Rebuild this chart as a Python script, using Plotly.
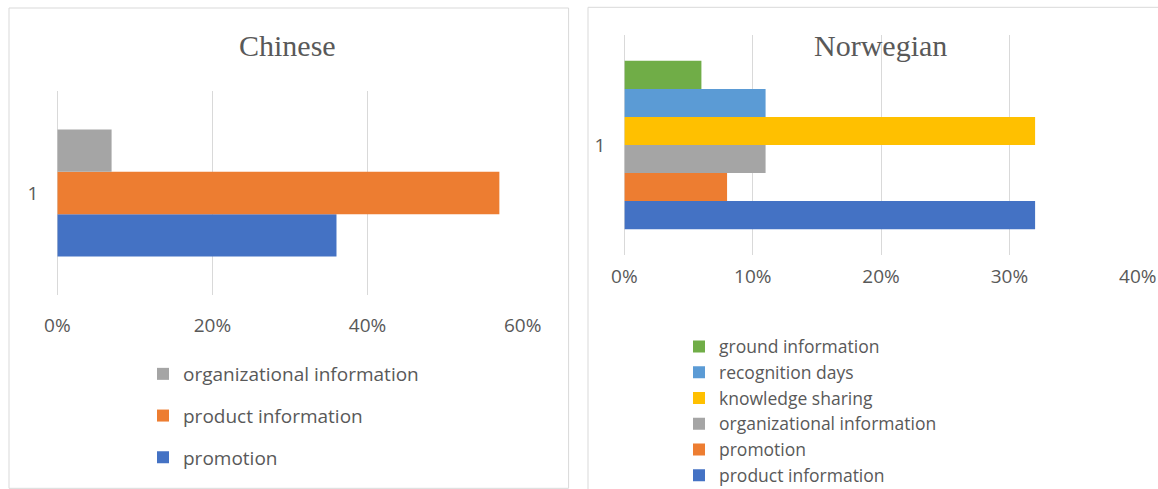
import plotly.graph_objects as go

# Survey answers, share of messages per content type
category = ["1"]

cn_series = ["promotion", "product information", "organizational information"]
cn_values = [0.36, 0.57, 0.07]
cn_colors = ["#4472C4", "#ED7D31", "#A5A5A5"]

no_series = ["product information", "promotion", "organizational information",
             "knowledge sharing", "recognition days", "ground information"]
no_values = [0.32, 0.08, 0.11, 0.32, 0.11, 0.06]
no_colors = ["#4472C4", "#ED7D31", "#A5A5A5", "#FFC000", "#5B9BD5", "#70AD47"]

cn_ticks = [0, 0.2, 0.4, 0.6]
no_ticks = [0, 0.1, 0.2, 0.3, 0.4]

W, H = 1158, 489
TEXT = "#595959"
GRID = "#D9D9D9"
SANS = "Open Sans"
SERIF = "Liberation Serif"
FS = 19


def px(x):
    return x / W


def py(y):
    return (H - y) / H


fig = go.Figure()

n_cn = len(cn_series)
for i, (name, val, col) in enumerate(zip(cn_series, cn_values, cn_colors)):
    fig.add_trace(go.Bar(
        x=[val], y=category, orientation="h", name=name,
        marker=dict(color=col, line=dict(width=0)),
        xaxis="x", yaxis="y", legend="legend", legendgroup="cn_" + name,
        legendrank=n_cn - i,
    ))

for name, val, col in zip(no_series, no_values, no_colors):
    fig.add_trace(go.Bar(
        x=[val], y=category, orientation="h", name=name,
        marker=dict(color=col, line=dict(width=0)),
        xaxis="x2", yaxis="y2", legend="legend2",
    ))

xcommon = dict(
    tickformat=".0%", showgrid=True, gridcolor=GRID, gridwidth=1,
    zeroline=True, zerolinecolor=GRID, zerolinewidth=1,
    showline=False, ticks="", automargin=False,
    tickfont=dict(family=SANS, size=FS, color=TEXT),
    fixedrange=True,
)
ycommon = dict(
    type="category", showgrid=False, zeroline=False, showline=False, ticks="",
    automargin=False,
    tickfont=dict(family=SANS, size=FS, color=TEXT), ticklabelstandoff=18,
    fixedrange=True,
)

fig.update_layout(
    width=W, height=H,
    margin=dict(l=0, r=0, t=0, b=0, autoexpand=False),
    paper_bgcolor="white", plot_bgcolor="white",
    barmode="group", bargap=0.2, bargroupgap=0,
    xaxis=dict(xcommon, domain=[px(57.3), px(522.7)], range=[0, 0.6001],
               tickvals=cn_ticks, anchor="y", ticklabelstandoff=17),
    yaxis=dict(ycommon, domain=[py(295), py(91)], range=[-0.6425, 0.6425],
               anchor="x"),
    xaxis2=dict(xcommon, domain=[px(624.4), px(1137.9)], range=[0, 0.4001],
                tickvals=no_ticks, anchor="y2", ticklabelstandoff=8),
    yaxis2=dict(ycommon, domain=[py(255), py(35)], range=[-0.5229, 0.5229],
                anchor="x2"),
    legend=dict(
        x=px(143), y=py(355), xanchor="left", yanchor="top",
        traceorder="grouped", tracegroupgap=14,
        font=dict(family=SANS, size=FS, color=TEXT),
        bgcolor="rgba(0,0,0,0)", borderwidth=0,
    ),
    legend2=dict(
        x=px(679), y=py(328.5), xanchor="left", yanchor="top",
        traceorder="reversed", tracegroupgap=0,
        font=dict(family=SANS, size=17.5, color=TEXT),
        bgcolor="rgba(0,0,0,0)", borderwidth=0,
    ),
    showlegend=True,
)

# Chart frames
fig.add_shape(type="rect", xref="paper", yref="paper",
              x0=px(9), x1=px(568.6), y0=py(488.3), y1=py(8),
              line=dict(color=GRID, width=1), fillcolor="rgba(0,0,0,0)", layer="below")
fig.add_shape(type="rect", xref="paper", yref="paper",
              x0=px(588), x1=px(1170), y0=py(500), y1=py(7.3),
              line=dict(color=GRID, width=1), fillcolor="rgba(0,0,0,0)", layer="below")

# Panel titles
fig.add_annotation(text="Chinese", xref="paper", yref="paper",
                   x=px(287.6), y=py(45), xanchor="center", yanchor="middle",
                   showarrow=False, font=dict(family=SERIF, size=30, color=TEXT))
fig.add_annotation(text="Norwegian", xref="paper", yref="paper",
                   x=px(880.5), y=py(45), xanchor="center", yanchor="middle",
                   showarrow=False, font=dict(family=SERIF, size=30, color=TEXT))

fig.write_html("out.html")
